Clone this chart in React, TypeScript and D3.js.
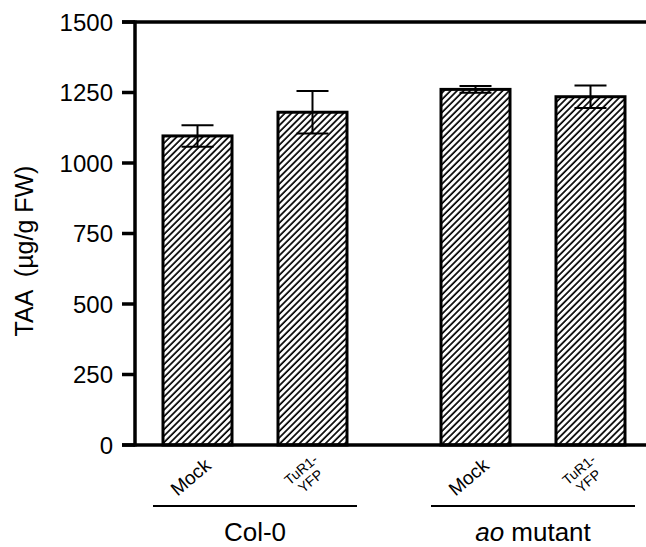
import React from "react";
import * as d3 from "d3";

const groups = ["Col-0", "ao mutant"];
const treatments = ["Mock", "TuR1-YFP"];
const means = [
  [1096, 1180],
  [1261, 1235],
];
const errors = [
  [38, 75],
  [12, 40],
];
const yTicks = [0, 250, 500, 750, 1000, 1250, 1500];

const W = 646;
const H = 547;
const FONT = "'Liberation Sans', Arial, Helvetica, sans-serif";

export default function App() {
  const y = d3.scaleLinear().domain([0, 1500]).range([445, 22]);
  const xGroup = d3
    .scaleBand<string>()
    .domain(groups)
    .range([135, 653])
    .paddingInner(0.1727)
    .paddingOuter(0.018);
  const xInner = d3
    .scaleBand<string>()
    .domain(treatments)
    .range([0, xGroup.bandwidth()])
    .paddingInner(0.4)
    .paddingOuter(0.2);

  const bw = xInner.bandwidth();
  const capW = 32;

  return (
    <svg
      width={W}
      height={H}
      style={{ position: "absolute", left: 0, top: 0, background: "#fff" }}
      fontFamily={FONT}
    >
      <defs>
        <pattern
          id="hatch"
          patternUnits="userSpaceOnUse"
          width={4.6}
          height={4.6}
          patternTransform="rotate(45)"
        >
          <rect width={4.6} height={4.6} fill="#fff" />
          <line x1={1} y1={0} x2={1} y2={4.6} stroke="#000" strokeWidth={1.7} />
        </pattern>
      </defs>

      {/* bars */}
      {groups.map((g, gi) =>
        treatments.map((t, ti) => {
          const x0 = (xGroup(g) ?? 0) + (xInner(t) ?? 0);
          const v = means[gi][ti];
          const e = errors[gi][ti];
          const cx = x0 + bw / 2;
          return (
            <g key={g + t}>
              <rect
                x={x0}
                y={y(v)}
                width={bw}
                height={y(0) - y(v)}
                fill="url(#hatch)"
                stroke="#000"
                strokeWidth={3}
              />
              <line x1={cx} x2={cx} y1={y(v + e)} y2={y(v - e)} stroke="#000" strokeWidth={2} />
              <line x1={cx - capW / 2} x2={cx + capW / 2} y1={y(v + e)} y2={y(v + e)} stroke="#000" strokeWidth={2} />
              <line x1={cx - capW / 2} x2={cx + capW / 2} y1={y(v - e)} y2={y(v - e)} stroke="#000" strokeWidth={2} />
            </g>
          );
        })
      )}

      {/* axes */}
      <line x1={135} x2={135} y1={y(1500) - 1.5} y2={y(0) + 1.5} stroke="#000" strokeWidth={3.5} />
      <line x1={122} x2={W} y1={y(0)} y2={y(0)} stroke="#000" strokeWidth={3.5} />
      <line x1={122} x2={W} y1={y(1500)} y2={y(1500)} stroke="#000" strokeWidth={3.5} />
      {yTicks.map((t) => (
        <g key={t}>
          <line x1={122} x2={135} y1={y(t)} y2={y(t)} stroke="#000" strokeWidth={3.5} />
          <text x={113} y={y(t)} dy="0.36em" textAnchor="end" fontSize={24} fill="#000">
            {t}
          </text>
        </g>
      ))}

      {/* y label */}
      <text
        transform="translate(33,251) rotate(-90)"
        textAnchor="middle"
        fontSize={25}
        fill="#000"
        style={{ whiteSpace: "pre" }}
      >
        {"TAA  (µg/g FW)"}
      </text>

      {/* x category labels */}
      {groups.map((g, gi) =>
        treatments.map((t, ti) => {
          const cx = (xGroup(g) ?? 0) + (xInner(t) ?? 0) + bw / 2;
          if (t === "Mock") {
            return (
              <text
                key={g + t}
                transform={`translate(${cx - 7},${477}) rotate(-40)`}
                textAnchor="middle"
                dy="0.35em"
                fontSize={19}
                fill="#000"
              >
                Mock
              </text>
            );
          }
          return (
            <text
              key={g + t}
              transform={`translate(${cx - 7},${475}) rotate(-40)`}
              textAnchor="middle"
              fontSize={14}
              fill="#000"
            >
              <tspan x={0} dy="-0.15em">TuR1-</tspan>
              <tspan x={0} dy="1.05em">YFP</tspan>
            </text>
          );
        })
      )}

      {/* group lines and labels */}
      {groups.map((g) => {
        const gx = xGroup(g) ?? 0;
        const cx = gx + xGroup.bandwidth() / 2;
        return (
          <g key={g}>
            <line x1={cx - 102} x2={cx + 102} y1={506} y2={506} stroke="#000" strokeWidth={2} />
            <text x={cx} y={541} textAnchor="middle" fontSize={26} fill="#000">
              {g === "ao mutant" ? (
                <>
                  <tspan fontStyle="italic">ao</tspan> mutant
                </>
              ) : (
                g
              )}
            </text>
          </g>
        );
      })}
    </svg>
  );
}
